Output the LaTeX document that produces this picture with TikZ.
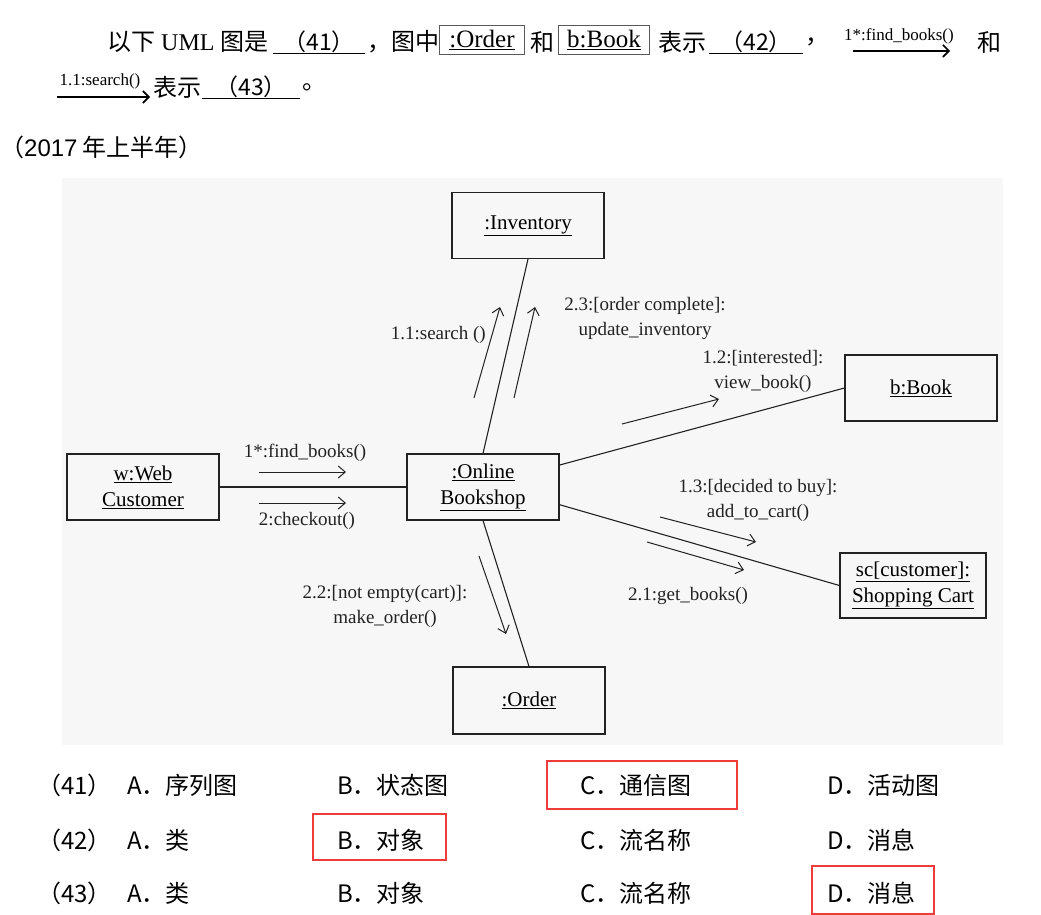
\documentclass[tikz,border=0pt]{standalone}
\usepackage{fontspec}
\setmainfont{Liberation Serif}
\newfontfamily\cjk{Noto Sans CJK SC}
\newfontfamily\arial{Liberation Sans}
\usetikzlibrary{arrows.meta}

\definecolor{answerred}{HTML}{EE3B3B}
\definecolor{ink}{HTML}{222222}

\begin{document}
\begin{tikzpicture}[
  x=1pt,y=-1pt,
  obj/.style={draw=ink,line width=1.1pt,minimum width=152pt,minimum height=66pt,
              align=center,inner sep=0,font=\fontsize{21}{26}\selectfont},
  link/.style={draw=ink,line width=1.1pt},
  msg/.style={draw=ink,line width=1pt,-{Straight Barb[length=7pt,width=12pt]}},
  lbl/.style={align=center,inner sep=0,text=ink,font=\fontsize{19}{25}\selectfont},
  qtext/.style={anchor=west,inner sep=0,font=\fontsize{24}{28}\selectfont},
  qbox/.style={draw=black!65,line width=1.4pt,minimum height=29pt,inner sep=0,
               font=\fontsize{25}{28}\selectfont},
  blank/.style={inner sep=0,font=\cjk\fontsize{23}{28}\selectfont},
  qmsg/.style={inner sep=0,font=\fontsize{17}{20}\selectfont},
  qarrow/.style={line width=1.6pt,-{Straight Barb[length=6pt,width=12pt]}},
  opt/.style={anchor=west,inner sep=0,font=\cjk\fontsize{24}{28}\selectfont},
  pick/.style={draw=answerred,line width=2.4pt}
]
\useasboundingbox (0,0) rectangle (1041,915);

% question text
\node[qtext] (q1) at (107,42) {{\cjk 以下} UML {\cjk 图是}};
\node[blank,minimum width=92pt] (b41) at (319,42) {（41）};
\node[qtext] (q2) at (367,42) {\cjk ，图中};
\node[qbox,minimum width=85pt] (qorder) at (482,40) {\underline{:Order}};
\node[qtext] (q3) at (530,42) {\cjk 和};
\node[qbox,minimum width=91pt] (qbook) at (604,40) {\underline{b:Book}};
\node[qtext] (q4) at (658,42) {\cjk 表示};
\node[blank,minimum width=94pt] (b42) at (756,42) {（42）};
\node[qtext] (q5) at (805,42) {\cjk ，};
\node[qmsg] (qfind) at (899,36) {1*:find\_books()};
\coordinate (qf1) at (853,51);
\coordinate (qf2) at (950,51);
\node[qtext] (q6) at (977,42) {\cjk 和};
\node[qmsg] (qsearch) at (100,81) {1.1:search()};
\coordinate (qs1) at (57,97);
\coordinate (qs2) at (150,97);
\node[qtext] (q7) at (153,87) {\cjk 表示};
\node[blank,minimum width=97pt] (b43) at (251,87) {（43）};
\node[qtext] (q8) at (302,87) {\cjk 。};
\draw[line width=1.2pt] (b41.south west) -- (b41.south east);
\draw[line width=1.2pt] (b42.south west) -- (b42.south east);
\draw[line width=1.2pt] (b43.south west) -- (b43.south east);
\draw[qarrow] (qf1) -- (qf2);
\draw[qarrow] (qs1) -- (qs2);

\node[opt] (year) at (0,147) {{\cjk （}{\arial 2017} {\cjk 年上半年）}};

% diagram
\fill[black!3] (62,178) rectangle (1003,745);

\node[obj] (inv) at (528,225.5) {\underline{:Inventory}};
\node[obj] (book) at (921,388) {\underline{b:Book}};
\node[obj] (web) at (143,487) {\underline{w:Web}\\\underline{Customer}};
\node[obj] (shop) at (483,487) {\underline{:Online}\\\underline{Bookshop}};
\node[obj,minimum width=146pt,minimum height=65pt] (cart) at (913,585.5)
  {\underline{sc[customer]:}\\\underline{Shopping Cart}};
\node[obj,minimum height=67pt] (order) at (529,700.5) {\underline{:Order}};

\draw[link] (web) -- (shop);
\draw[link] (shop.north) -- (inv.south);
\draw[link] (shop.16) -- (book.west);
\draw[link] (shop.-13) -- (cart.west);
\draw[link] (shop.south) -- (order.north);

% messages
\coordinate (m1a) at (259,472);  \coordinate (m1b) at (346,472);
\coordinate (m2a) at (259,503);  \coordinate (m2b) at (346,503);
\coordinate (m3a) at (474,398);  \coordinate (m3b) at (500,307);
\coordinate (m4a) at (514,398);  \coordinate (m4b) at (535,307);
\coordinate (m5a) at (622,424);  \coordinate (m5b) at (719,399);
\coordinate (m6a) at (660,517);  \coordinate (m6b) at (756,542);
\coordinate (m7a) at (647,542);  \coordinate (m7b) at (744,570);
\coordinate (m8a) at (479,556);  \coordinate (m8b) at (506,634);
\draw[msg] (m1a) -- (m1b);
\draw[msg] (m2a) -- (m2b);
\draw[msg] (m3a) -- (m3b);
\draw[msg] (m4a) -- (m4b);
\draw[msg] (m5a) -- (m5b);
\draw[msg] (m6a) -- (m6b);
\draw[msg] (m7a) -- (m7b);
\draw[msg] (m8a) -- (m8b);

\node[lbl] (l1) at (305,453) {1*:find\_books()};
\node[lbl] (l2) at (307,521) {2:checkout()};
\node[lbl,anchor=east] (l3) at (486,335) {1.1:search ()};
\node[lbl] (l4) at (645,318) {2.3:[order complete]:\\update\_inventory};
\node[lbl] (l5) at (763,371) {1.2:[interested]:\\view\_book()};
\node[lbl] (l6) at (758,500) {1.3:[decided to buy]:\\add\_to\_cart()};
\node[lbl] (l7) at (688,596) {2.1:get\_books()};
\node[lbl] (l8) at (385,606) {2.2:[not empty(cart)]:\\make\_order()};

% options
\node[opt] (n41) at (37,785) {（41）};
\node[opt] (o41a) at (127,785) {A．序列图};
\node[opt] (o41b) at (337,785) {B．状态图};
\node[opt] (o41c) at (580,785) {C．通信图};
\node[opt] (o41d) at (827,785) {D．活动图};
\node[opt] (n42) at (37,840) {（42）};
\node[opt] (o42a) at (127,840) {A．类};
\node[opt] (o42b) at (337,840) {B．对象};
\node[opt] (o42c) at (580,840) {C．流名称};
\node[opt] (o42d) at (827,840) {D．消息};
\node[opt] (n43) at (37,893) {（43）};
\node[opt] (o43a) at (127,893) {A．类};
\node[opt] (o43b) at (337,893) {B．对象};
\node[opt] (o43c) at (580,893) {C．流名称};
\node[opt] (o43d) at (827,893) {D．消息};
\draw[pick] (547,761) rectangle (737,809);
\draw[pick] (313,814) rectangle (446,860);
\draw[pick] (812,866) rectangle (934,914);
\end{tikzpicture}
\end{document}
